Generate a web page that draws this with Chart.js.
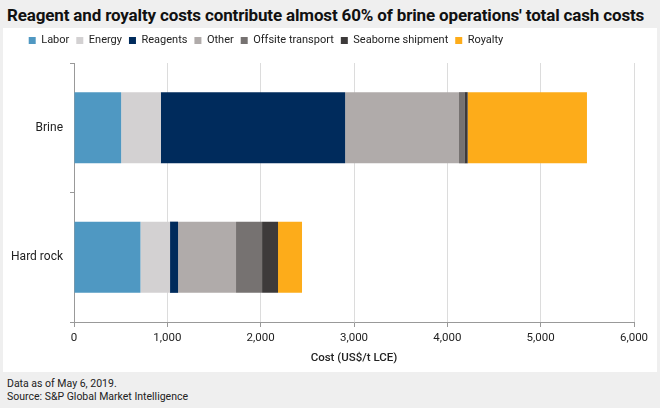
<!DOCTYPE html>
<html>
<head>
<meta charset="utf-8">
<script src="https://cdn.jsdelivr.net/npm/chart.js@4"></script>
<style>
  html, body { margin: 0; padding: 0; }
  body { width: 660px; height: 408px; background: #efefef; position: relative; overflow: hidden; font-family: Roboto, "Liberation Sans", sans-serif; }
  #title { position: absolute; left: 7px; top: 5px; font-size: 17px; font-weight: 700; color: #111; white-space: nowrap; letter-spacing: -0.15px; }
  #panel { position: absolute; left: 3px; top: 28px; width: 654px; height: 344px; background: #fff; }
  #foot { position: absolute; left: 7px; top: 377px; font-size: 10.5px; line-height: 13px; color: #222; }
</style>
</head>
<body>
<div id="title">Reagent and royalty costs contribute almost 60% of brine operations' total cash costs</div>
<div id="panel"><canvas id="chart" width="654" height="344"></canvas></div>
<div id="foot">Data as of May 6, 2019.<br>Source: S&amp;P Global Market Intelligence</div>
<script>
// Chart data (US$/t LCE)
var categories = ['Brine', 'Hard rock'];
var seriesNames = ['Labor', 'Energy', 'Reagents', 'Other', 'Offsite transport', 'Seaborne shipment', 'Royalty'];
var labor     = [505, 712];
var energy    = [425, 317];
var reagents  = [1975, 86];
var other     = [1220, 621];
var offsite   = [57, 279];
var seaborne  = [36, 171];
var royalty   = [1278, 257];
var xTicks    = [0, 1000, 2000, 3000, 4000, 5000, 6000];

var colors = ['#4f98c2', '#d3d1d2', '#002b5c', '#b0abaa', '#767271', '#3d3a3a', '#fdac1a'];
var values = [labor, energy, reagents, other, offsite, seaborne, royalty];

var datasets = [];
for (var i = 0; i < seriesNames.length; i++) {
    datasets.push({
        label: seriesNames[i],
        data: values[i],
        backgroundColor: colors[i],
        borderWidth: 0,
        barPercentage: 0.55,
        categoryPercentage: 1
    });
}

var font = 'Roboto, "Liberation Sans", sans-serif';

// Fix legend box height and shift its centre to match the original layout
var legendTweak = {
    id: 'legendTweak',
    beforeInit: function(chart) {
        var fit = chart.legend.fit;
        chart.legend.fit = function() {
            fit.bind(chart.legend)();
            this.height = 35;
        };
    },
    afterLayout: function(chart) {
        var lg = chart.legend;
        var shift = 263 - (lg.left + lg.right) / 2;
        lg.left += shift;
        lg.right += shift;
    }
};

new Chart(document.getElementById('chart'), {
    type: 'bar',
    data: { labels: categories, datasets: datasets },
    plugins: [legendTweak],
    options: {
        responsive: false,
        animation: false,
        indexAxis: 'y',
        layout: { padding: { left: 0, right: 23, top: 0, bottom: 0 } },
        plugins: {
            legend: {
                display: true,
                position: 'top',
                labels: {
                    color: '#222',
                    font: { family: font, size: 11 },
                    boxWidth: 7,
                    boxHeight: 7,
                    padding: 7
                }
            },
            tooltip: { enabled: false }
        },
        scales: {
            x: {
                stacked: true,
                min: 0,
                max: 6000,
                afterBuildTicks: function(s) { s.ticks = xTicks.map(function(v) { return { value: v }; }); },
                ticks: {
                    color: '#222',
                    font: { family: font, size: 11.5 },
                    padding: 4,
                    callback: function(v) { return Number(v).toLocaleString('en-US'); }
                },
                grid: { color: '#dcdcdc', tickLength: 5, tickColor: '#999' },
                border: { color: '#999' },
                title: {
                    display: true,
                    text: 'Cost (US$/t LCE)',
                    color: '#222',
                    font: { family: font, size: 11.5, weight: '500' },
                    padding: { top: 4, bottom: 7 }
                },
                afterFit: function(s) { s.height = 50; }
            },
            y: {
                stacked: true,
                ticks: { color: '#222', font: { family: font, size: 12 }, padding: 7 },
                grid: { drawOnChartArea: false, offset: true, tickLength: 4, color: '#999' },
                border: { color: '#999' },
                afterFit: function(s) { s.width = 71; }
            }
        }
    }
});
</script>
</body>
</html>
